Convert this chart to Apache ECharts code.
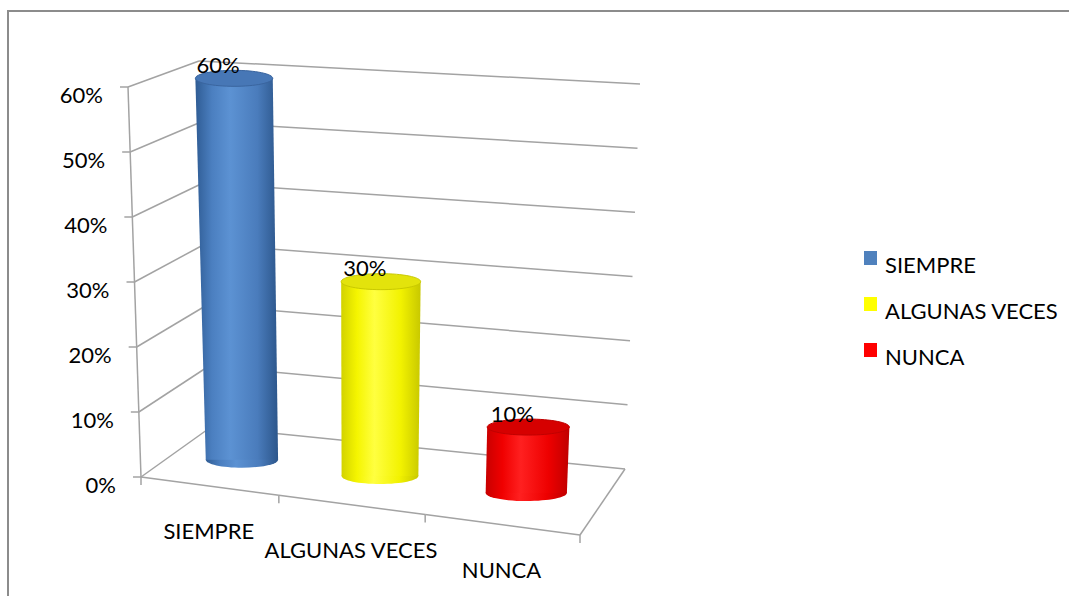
<!DOCTYPE html>
<html>
<head>
<meta charset="utf-8">
<script src="https://cdn.jsdelivr.net/npm/echarts@6/dist/echarts.min.js"></script>
<style>
  html, body { margin: 0; padding: 0; background: #ffffff; overflow: hidden; }
  #chart { width: 1069px; height: 596px; }
</style>
</head>
<body>
<div id="chart"></div>
<script>
// ---- data ----
const categories = ['SIEMPRE', 'ALGUNAS VECES', 'NUNCA'];
const shares = [0.6, 0.3, 0.1];
const valueTicks = [0, 0.1, 0.2, 0.3, 0.4, 0.5, 0.6];

// ---- styles ----
const FONT = 'Lato, "Open Sans", sans-serif';
const FONT_SIZE = 22;
const GRID_LINE = '#a3a3a3';
const SHADES = [
  { base: '#4f81bd', stops: ['#2f5c94', '#4b7fc0', '#5c92d3', '#4a7cbc', '#2c568b'], cap: '#4777b6', capEdge: '#3a659f' },
  { base: '#ffff00', stops: ['#d2d200', '#f5f500', '#ffff40', '#f2f200', '#c8c800'], cap: '#e3e30c', capEdge: '#c9c900' },
  { base: '#ff0000', stops: ['#c80000', '#f00000', '#ff2020', '#ee0000', '#c00000'], cap: '#d60000', capEdge: '#c00000' }
];

// ---- 3-D plot box: front plane (z = 0) and back wall (z = 1), screen space ----
const BOX = {
  flb: [141, 477], flt: [128, 87], frb: [580, 535], frt: [600, 120],
  blb: [211, 427], blt: [199, 61], brb: [625, 469], brt: [640, 84]
};
const BAR_DEPTH = 0.5;     // cylinders stand halfway into the box
const BAR_HALF = 0.27;     // half bar width as a share of the category band
const CAP_RY = 8;          // vertical radius of the cylinder ends

function lerp(a, b, t) { return [a[0] + (b[0] - a[0]) * t, a[1] + (b[1] - a[1]) * t]; }
// slight horizontal foreshortening of the perspective view
function warp(u) { return 0.913 * u + 0.087 * u * u; }
// (u across categories, v up the value axis, w into depth) -> screen point
function project(u, v, w) {
  const s = warp(u);
  const front = lerp(lerp(BOX.flb, BOX.frb, s), lerp(BOX.flt, BOX.frt, s), v);
  const back = lerp(lerp(BOX.blb, BOX.brb, s), lerp(BOX.blt, BOX.brt, s), v);
  return lerp(front, back, w);
}
function unitX(cs, px) { return (px - cs.x) / cs.width; }
function unitY(cs, py) { return (cs.y + cs.height - py) / cs.height; }

function seg(a, b, color, width) {
  return {
    type: 'line',
    shape: { x1: a[0], y1: a[1], x2: b[0], y2: b[1] },
    style: { stroke: color || GRID_LINE, lineWidth: width || 1.5 }
  };
}
function label(text, x, y, align) {
  return {
    type: 'text', x: x, y: y,
    style: { text: text, fill: '#000', fontSize: FONT_SIZE, fontFamily: FONT, align: align || 'center', verticalAlign: 'middle' }
  };
}
const pct = v => Math.round(v * 100) + '%';

// value axis: left wall and back wall gridlines, ticks and labels
function renderValueGrid(params, api) {
  const cs = params.coordSys;
  const val = api.value(1);
  const v = unitY(cs, api.coord([0, val])[1]);
  const f = project(0, v, 0), b = project(0, v, 1), r = project(1, v, 1);
  const children = [
    seg(f, b), seg(b, r),
    seg([f[0] - 8, f[1]], f),
    label(pct(val), f[0] - 25, f[1] + 7, 'right')
  ];
  if (params.dataIndex === 0) {
    const topV = unitY(cs, api.coord([0, valueTicks[valueTicks.length - 1]])[1]);
    children.push(seg(project(0, 0, 0), project(0, topV, 0)));
  }
  return { type: 'group', children: children };
}

// category axis: front floor edge, ticks, labels and right floor edge
function renderCategoryAxis(params, api) {
  const cs = params.coordSys;
  const idx = api.value(0);
  const c = api.coord([idx, 0]);
  const band = api.size([1, 0])[0];
  const a = project(unitX(cs, c[0] - band / 2), 0, 0);
  const b = project(unitX(cs, c[0] + band / 2), 0, 0);
  const m = project(unitX(cs, c[0]), 0, 0);
  const children = [
    seg(a, b),
    seg(a, [a[0], a[1] + 8]),
    label(categories[idx], m[0], m[1] + 45, 'center')
  ];
  if (params.dataIndex === categories.length - 1) {
    children.push(seg(b, [b[0], b[1] + 8]));
    children.push(seg(b, project(unitX(cs, c[0] + band / 2), 0, 1)));
  }
  return { type: 'group', children: children };
}

// one shaded cylinder per category, with its value label on top
function renderCylinder(params, api) {
  const cs = params.coordSys;
  const idx = api.value(0);
  const val = api.value(1);
  const base = api.coord([idx, 0]);
  const top = api.coord([idx, val]);
  const band = api.size([1, 0])[0];
  const u = unitX(cs, base[0]);
  const v = unitY(cs, top[1]);
  const hw = BAR_HALF * band / cs.width;
  const cb = project(u, 0, BAR_DEPTH);
  const ct = project(u, v, BAR_DEPTH);
  const rxB = (project(u + hw, 0, BAR_DEPTH)[0] - project(u - hw, 0, BAR_DEPTH)[0]) / 2;
  const rxT = (project(u + hw, v, BAR_DEPTH)[0] - project(u - hw, v, BAR_DEPTH)[0]) / 2;
  const sh = SHADES[idx];
  const grad = new echarts.graphic.LinearGradient(0, 0, 1, 0, [
    { offset: 0, color: sh.stops[0] },
    { offset: 0.2, color: sh.stops[1] },
    { offset: 0.42, color: sh.stops[2] },
    { offset: 0.75, color: sh.stops[3] },
    { offset: 1, color: sh.stops[4] }
  ]);
  return {
    type: 'group',
    children: [
      { type: 'ellipse', shape: { cx: cb[0], cy: cb[1], rx: rxB, ry: CAP_RY }, style: { fill: grad } },
      {
        type: 'polygon',
        shape: { points: [[cb[0] - rxB, cb[1]], [cb[0] + rxB, cb[1]], [ct[0] + rxT, ct[1]], [ct[0] - rxT, ct[1]]] },
        style: { fill: grad }
      },
      { type: 'ellipse', shape: { cx: ct[0], cy: ct[1], rx: rxT, ry: CAP_RY }, style: { fill: sh.cap, stroke: sh.capEdge, lineWidth: 1 } },
      label(pct(val), ct[0] - 16, ct[1] - 14, 'center')
    ]
  };
}

const chart = echarts.init(document.getElementById('chart'), null, { renderer: 'svg' });

const cylinderSeries = categories.map((name, i) => ({
  name: name,
  type: 'custom',
  coordinateSystem: 'cartesian2d',
  clip: false,
  silent: true,
  itemStyle: { color: SHADES[i].base },
  renderItem: renderCylinder,
  data: [[i, shares[i]]],
  z: 3
}));

chart.setOption({
  animation: false,
  backgroundColor: '#ffffff',
  // chart-area border: only its top and left edges fall inside the page
  graphic: [
    { type: 'line', shape: { x1: 7, y1: 11, x2: 1069, y2: 11 }, style: { stroke: '#8c8c8c', lineWidth: 2 }, silent: true },
    { type: 'line', shape: { x1: 8, y1: 10, x2: 8, y2: 596 }, style: { stroke: '#8c8c8c', lineWidth: 2 }, silent: true }
  ],
  grid: { left: 200, top: 60, width: 440, height: 400 },
  xAxis: { type: 'category', data: categories, boundaryGap: true, show: false },
  yAxis: { type: 'value', min: 0, max: 0.6, interval: 0.1, show: false },
  legend: {
    data: categories,
    orient: 'vertical',
    left: 859,
    top: 246,
    // square sits in the upper part of a taller icon box, so the text reads slightly lower
    icon: 'path://M0,0L13,0L13,14L0,14Z M0,26L0.01,26',
    itemWidth: 13,
    itemHeight: 26,
    itemGap: 20,
    selectedMode: false,
    textStyle: { color: '#000', fontSize: FONT_SIZE, fontFamily: FONT, padding: [0, 0, 0, 3] }
  },
  series: [
    {
      type: 'custom',
      coordinateSystem: 'cartesian2d',
      clip: false,
      silent: true,
      renderItem: renderValueGrid,
      data: valueTicks.map(t => [0, t]),
      z: 1
    },
    {
      type: 'custom',
      coordinateSystem: 'cartesian2d',
      clip: false,
      silent: true,
      renderItem: renderCategoryAxis,
      data: categories.map((c, i) => [i, 0]),
      z: 1
    }
  ].concat(cylinderSeries)
});
</script>
</body>
</html>
